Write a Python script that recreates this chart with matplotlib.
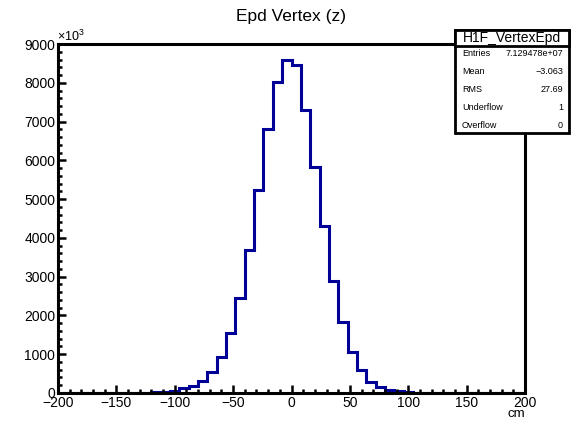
import numpy as np
import matplotlib
matplotlib.use("Agg")
import matplotlib.pyplot as plt
from matplotlib.patches import Rectangle
from matplotlib.ticker import MultipleLocator

plt.rcParams['font.family'] = ['Liberation Sans', 'DejaVu Sans']
plt.rcParams['mathtext.fontset'] = 'custom'
plt.rcParams['mathtext.rm'] = 'Liberation Sans'

# histogram contents, units of 10^3 entries, 50 bins of 8 cm from -200 to 200
x_min, x_max, n_bins = -200, 200, 50
counts = [0, 0, 0, 0, 0, 0, 0, 0,
          2, 5, 15, 30, 60, 120, 190, 310, 550, 940,
          1540, 2440, 3700, 5230, 6800, 8020, 8580, 8450, 7290, 5830,
          4300, 2890, 1840, 1060, 590, 290, 160, 80, 40, 20,
          10, 5,
          0, 0, 0, 0, 0, 0, 0, 0, 0, 0]

title = "Epd Vertex (z)"
x_label = "cm"
stats_name = "H1F_VertexEpd"
stats_labels = ["Entries", "Mean", "RMS", "Underflow", "Overflow"]
stats_values = ["7.129478e+07", "\u22123.063", "27.69", "1", "0"]

W, H = 582, 422
fig = plt.figure(figsize=(W / 100, H / 100), dpi=100)
ax = fig.add_axes([58 / W, 1 - 393 / H, 467 / W, 349 / H])

edges = np.linspace(x_min, x_max, n_bins + 1)
ax.stairs(counts, edges, color='#000099', linewidth=2.2)

ax.set_xlim(x_min, x_max)
ax.set_ylim(0, 9000)
ax.xaxis.set_major_locator(MultipleLocator(50))
ax.xaxis.set_minor_locator(MultipleLocator(10))
ax.yaxis.set_major_locator(MultipleLocator(1000))
ax.yaxis.set_minor_locator(MultipleLocator(200))
ax.xaxis.set_major_formatter(lambda v, p: f"{v:.0f}".replace("-", "\u2212"))
ax.tick_params(which='both', direction='in', top=False, right=False,
               width=1.8, labelsize=10, colors='black')
ax.tick_params(which='major', length=6)
ax.tick_params(which='minor', length=3)
ax.tick_params(axis='x', pad=2)
ax.tick_params(axis='y', pad=2)
for s in ax.spines.values():
    s.set_linewidth(2.2)

fig.text(291.5 / W, 1 - 17 / H, title, ha='center', va='center', fontsize=12.5)
fig.text(57 / W, 1 - 36 / H, r'$\times10^{3}$', ha='left', va='center', fontsize=9)
fig.text(525 / W, 1 - 414 / H, x_label, ha='right', va='center', fontsize=9.5)

# stats box
bx0, bx1 = 455 / W, 569 / W
by_top, by_sep, by_bot = 1 - 30 / H, 1 - 45.5 / H, 1 - 133 / H
fig.patches.append(Rectangle((bx0, by_bot), bx1 - bx0, by_top - by_bot,
                             transform=fig.transFigure, facecolor='white',
                             edgecolor='black', linewidth=2.0, zorder=5))
fig.patches.append(Rectangle((bx0, by_sep), bx1 - bx0, by_top - by_sep,
                             transform=fig.transFigure, facecolor='white',
                             edgecolor='black', linewidth=2.0, zorder=6))
fig.text((bx0 + bx1) / 2, (by_top + by_sep) / 2, stats_name, ha='center',
         va='center', fontsize=10, zorder=7)
row_y = [53, 72, 90, 108, 125]
for lab, val, yy in zip(stats_labels, stats_values, row_y):
    fig.text(462 / W, 1 - yy / H, lab, ha='left', va='center', fontsize=6.5, zorder=7)
    fig.text(563 / W, 1 - yy / H, val, ha='right', va='center', fontsize=6.5, zorder=7)

fig.savefig("out.png", dpi=100)
